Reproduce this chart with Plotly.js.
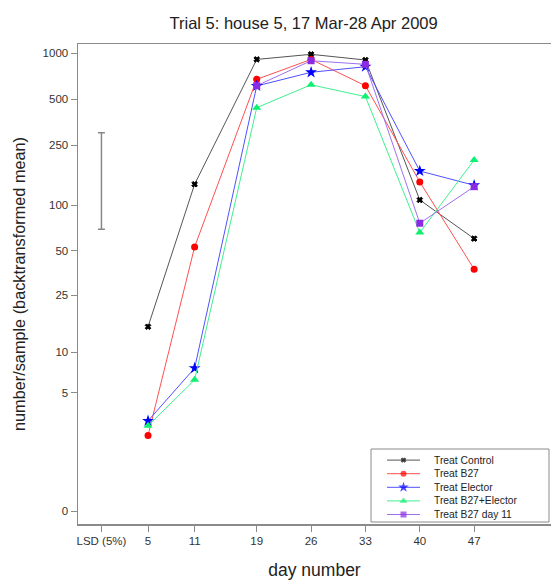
<!DOCTYPE html>
<html>
<head>
<meta charset="utf-8">
<script src="https://cdn.plot.ly/plotly-3.0.1.min.js"></script>
<style>html,body{margin:0;padding:0;background:#fff;}#chart{width:551px;height:580px;}</style>
</head>
<body>
<div id="chart"></div>
<script>
// ---- data (backtransformed means) ----
const days = [5, 11, 19, 26, 33, 40, 47];
const treatControl = [15.2, 138, 912, 985, 904, 108.6, 60.2];
const treatB27 = [2.14, 53, 675, 912, 613, 143, 37.6];
const treatElector = [2.92, 7.68, 611, 751, 817, 168.7, 135.8];
const treatB27Elector = [2.64, 6.27, 440, 622, 520, 66, 199];
const treatB27Day11 = [null, null, 613, 894, 847, 76.2, 133];
const seriesNames = ['Treat Control', 'Treat B27', 'Treat Elector', 'Treat B27+Elector', 'Treat B27 day 11'];
const lsdDay = -1;
const lsdLimits = [69.5, 301];
const yTickValues = [0, 5, 10, 25, 50, 100, 250, 500, 1000];
const xTickValues = [-1, 5, 11, 19, 26, 33, 40, 47];
const xTickLabels = ['LSD (5%)', '5', '11', '19', '26', '33', '40', '47'];

// ---- styling ----
const tf = v => (v === null ? null : Math.log10(v + 1));
const styles = [
  {line: '#555555', marker: '#000000', symbol: 'x', size: 5},
  {line: '#ff5050', marker: '#ff0000', symbol: 'circle', size: 7},
  {line: '#5050ff', marker: '#0000ff', symbol: 'star', size: 9},
  {line: '#40f090', marker: '#10f070', symbol: 'triangle-up', size: 8},
  {line: '#a070f0', marker: '#8a2be2', symbol: 'square', size: 7}
];
const allSeries = [treatControl, treatB27, treatElector, treatB27Elector, treatB27Day11];
const FONT = 'Arial, "Liberation Sans", Helvetica, sans-serif';

const traces = allSeries.map((s, i) => ({
  type: 'scatter', mode: 'lines+markers', name: seriesNames[i],
  x: days, y: s.map(tf), connectgaps: false,
  line: {color: styles[i].line, width: 1},
  marker: {color: styles[i].marker, symbol: styles[i].symbol, size: styles[i].size,
           line: {color: styles[i].marker, width: i === 0 ? 1 : 0}},
  showlegend: false, cliponaxis: false
}));

// LSD bar
const lo = tf(lsdLimits[0]), hi = tf(lsdLimits[1]);
traces.push({
  type: 'scatter', mode: 'markers', x: [lsdDay], y: [(lo + hi) / 2],
  marker: {size: 1, color: 'rgba(0,0,0,0)'},
  error_y: {type: 'data', symmetric: true, array: [(hi - lo) / 2], color: '#888888', thickness: 1.5, width: 3.5},
  showlegend: false, hoverinfo: 'skip'
});

// ---- custom legend drawn on a hidden pixel-like overlay axis ----
const legBox = {x0: 371, x1: 549, y0: 449, y1: 522};
const legRowStep = 13.6, legRowMid = 487.3;
const legLineX = [387, 403.5, 420];
const legTextX = 433;
const annotations = [];
seriesNames.forEach((n, i) => {
  const ry = legRowMid + (i - 2) * legRowStep;
  traces.push({
    type: 'scatter', mode: 'lines+markers', xaxis: 'x2', yaxis: 'y2',
    x: legLineX, y: [ry, ry, ry],
    line: {color: styles[i].line, width: 1},
    marker: {color: styles[i].marker, symbol: styles[i].symbol, size: [0, styles[i].size - 1, 0],
             line: {color: styles[i].marker, width: i === 0 ? 1 : 0}},
    showlegend: false, hoverinfo: 'skip', cliponaxis: false
  });
  annotations.push({
    xref: 'x2', yref: 'y2', x: legTextX, y: ry, xanchor: 'left', yanchor: 'middle',
    text: n, showarrow: false, borderpad: 0, font: {family: FONT, size: 10.3, color: '#222'}
  });
});

const layout = {
  width: 551, height: 580,
  margin: {l: 78, r: 0, t: 44, b: 56},
  paper_bgcolor: '#ffffff', plot_bgcolor: '#ffffff',
  font: {family: FONT, size: 11.5, color: '#333'},
  showlegend: false,
  title: {text: 'Trial 5: house 5, 17 Mar-28 Apr 2009', x: 0.551, xanchor: 'center',
          y: 1 - 23 / 580, yanchor: 'middle', font: {family: FONT, size: 16.5, color: '#222'}},
  xaxis: {
    range: [-4.02, 56.9], showgrid: false, zeroline: false,
    showline: true, linecolor: '#8a8a8a', linewidth: 1.5, mirror: true,
    ticks: 'outside', ticklen: 6, tickcolor: '#8a8a8a', tickwidth: 1,
    tickvals: xTickValues, ticktext: xTickLabels,
    tickfont: {family: FONT, size: 11.5, color: '#333'},
    title: {text: 'day number', font: {family: FONT, size: 17.5, color: '#222'}, standoff: 20}
  },
  yaxis: {
    range: [-0.0825, 3.0615], showgrid: false, zeroline: false,
    showline: true, linecolor: '#8a8a8a', linewidth: 1.5,
    ticks: 'outside', ticklen: 6, tickcolor: '#8a8a8a', tickwidth: 1,
    tickvals: yTickValues.map(tf), ticktext: yTickValues.map(String),
    tickfont: {family: FONT, size: 11.5, color: '#333'},
    title: {text: 'number/sample (backtransformed mean)', font: {family: FONT, size: 16.3, color: '#222'}, standoff: 13}
  },
  xaxis2: {overlaying: 'x', anchor: 'y2', range: [78, 551], visible: false, fixedrange: true},
  yaxis2: {overlaying: 'y', anchor: 'x2', range: [524, 44], visible: false, fixedrange: true},
  shapes: [{type: 'rect', xref: 'x2', yref: 'y2', x0: legBox.x0, x1: legBox.x1, y0: legBox.y0, y1: legBox.y1,
            line: {color: '#8a8a8a', width: 1}, fillcolor: 'rgba(255,255,255,0.9)', layer: 'below'}],
  annotations: annotations
};

Plotly.newPlot('chart', traces, layout, {displayModeBar: false, staticPlot: true});
</script>
</body>
</html>
